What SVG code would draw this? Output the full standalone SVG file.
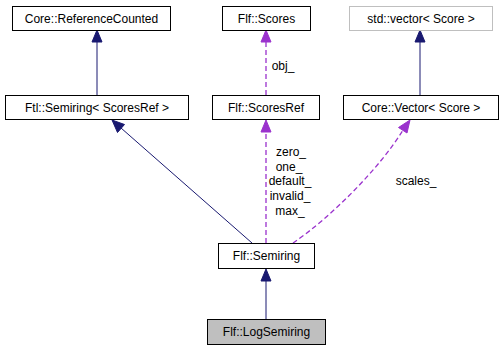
<svg xmlns="http://www.w3.org/2000/svg" width="503" height="351" viewBox="0 0 503 351">
  <style>
    .node rect { fill: #ffffff; stroke: #000000; stroke-width: 1; }
    .node.ext rect { stroke: #bfbfbf; }
    .node.cur rect { fill: #bfbfbf; }
    text { font-family: "Liberation Sans", Arial, sans-serif; font-size: 12px; fill: #000000; }
    .node text { text-anchor: middle; }
    .inh { stroke: #191970; stroke-width: 1; fill: none; }
    .inh-head { fill: #191970; stroke: #191970; }
    .use { stroke: #9a32cd; stroke-width: 1.3; stroke-dasharray: 5,3; fill: none; }
    .use-head { fill: #9a32cd; stroke: #9a32cd; }
    .lbl { text-anchor: middle; }
  </style>
  <rect width="503" height="351" fill="#ffffff"/>

  <g id="connectors">
    <!-- Ftl::Semiring -> Core::ReferenceCounted -->
    <line class="inh" x1="97" y1="95" x2="97" y2="42"/>
    <polygon class="inh-head" points="97,30 92,42 102,42"/>
    <!-- Flf::Semiring -> Ftl::Semiring -->
    <line class="inh" x1="252" y1="243" x2="121" y2="128"/>
    <polygon class="inh-head" points="112,120 117.5,132.5 124.5,124.5"/>
    <!-- Core::Vector -> std::vector -->
    <line class="inh" x1="420" y1="95" x2="420" y2="42"/>
    <polygon class="inh-head" points="420,30 415,42 425,42"/>
    <!-- Flf::LogSemiring -> Flf::Semiring -->
    <line class="inh" x1="266" y1="319" x2="266" y2="281"/>
    <polygon class="inh-head" points="266,269 261,281 271,281"/>

    <!-- Flf::ScoresRef uses Flf::Scores -->
    <line class="use" x1="266" y1="95" x2="266" y2="42"/>
    <polygon class="use-head" points="266,30 261,42 271,42"/>
    <text class="lbl" x="283" y="70">obj_</text>
    <!-- Flf::Semiring uses Flf::ScoresRef -->
    <line class="use" x1="266" y1="243" x2="266" y2="132"/>
    <polygon class="use-head" points="266,120 261,132 271,132"/>
    <text class="lbl" x="291" y="156">zero_</text>
    <text class="lbl" x="289" y="171">one_</text>
    <text class="lbl" x="290" y="185">default_</text>
    <text class="lbl" x="290" y="200">invalid_</text>
    <text class="lbl" x="290" y="215">max_</text>
    <!-- Flf::Semiring uses Core::Vector -->
    <path class="use" d="M293,243 C330,218 380,168 403,130"/>
    <polygon class="use-head" points="410,120 398.5,127.5 407,133"/>
    <text class="lbl" x="416" y="185">scales_</text>
  </g>

  <g id="node-reference-counted" class="node">
    <rect x="12.5" y="6.5" width="158" height="24"/>
    <text x="91.5" y="22.5">Core::ReferenceCounted</text>
  </g>
  <g id="node-scores" class="node">
    <rect x="222.5" y="6.5" width="88" height="24"/>
    <text x="266.5" y="22.5">Flf::Scores</text>
  </g>
  <g id="node-std-vector" class="node ext">
    <rect x="349.5" y="6.5" width="143" height="24"/>
    <text x="421" y="22.5">std::vector&lt; Score &gt;</text>
  </g>
  <g id="node-ftl-semiring" class="node">
    <rect x="5.5" y="95.5" width="183" height="24"/>
    <text x="97" y="111.5">Ftl::Semiring&lt; ScoresRef &gt;</text>
  </g>
  <g id="node-scores-ref" class="node">
    <rect x="212.5" y="95.5" width="107" height="24"/>
    <text x="266" y="111.5">Flf::ScoresRef</text>
  </g>
  <g id="node-core-vector" class="node">
    <rect x="343.5" y="95.5" width="155" height="24"/>
    <text x="421" y="111.5">Core::Vector&lt; Score &gt;</text>
  </g>
  <g id="node-flf-semiring" class="node">
    <rect x="218.5" y="243.5" width="96" height="25"/>
    <text x="266.5" y="260">Flf::Semiring</text>
  </g>
  <g id="node-log-semiring" class="node cur">
    <rect x="207.5" y="319.5" width="118" height="25"/>
    <text x="266.5" y="336">Flf::LogSemiring</text>
  </g>
</svg>
